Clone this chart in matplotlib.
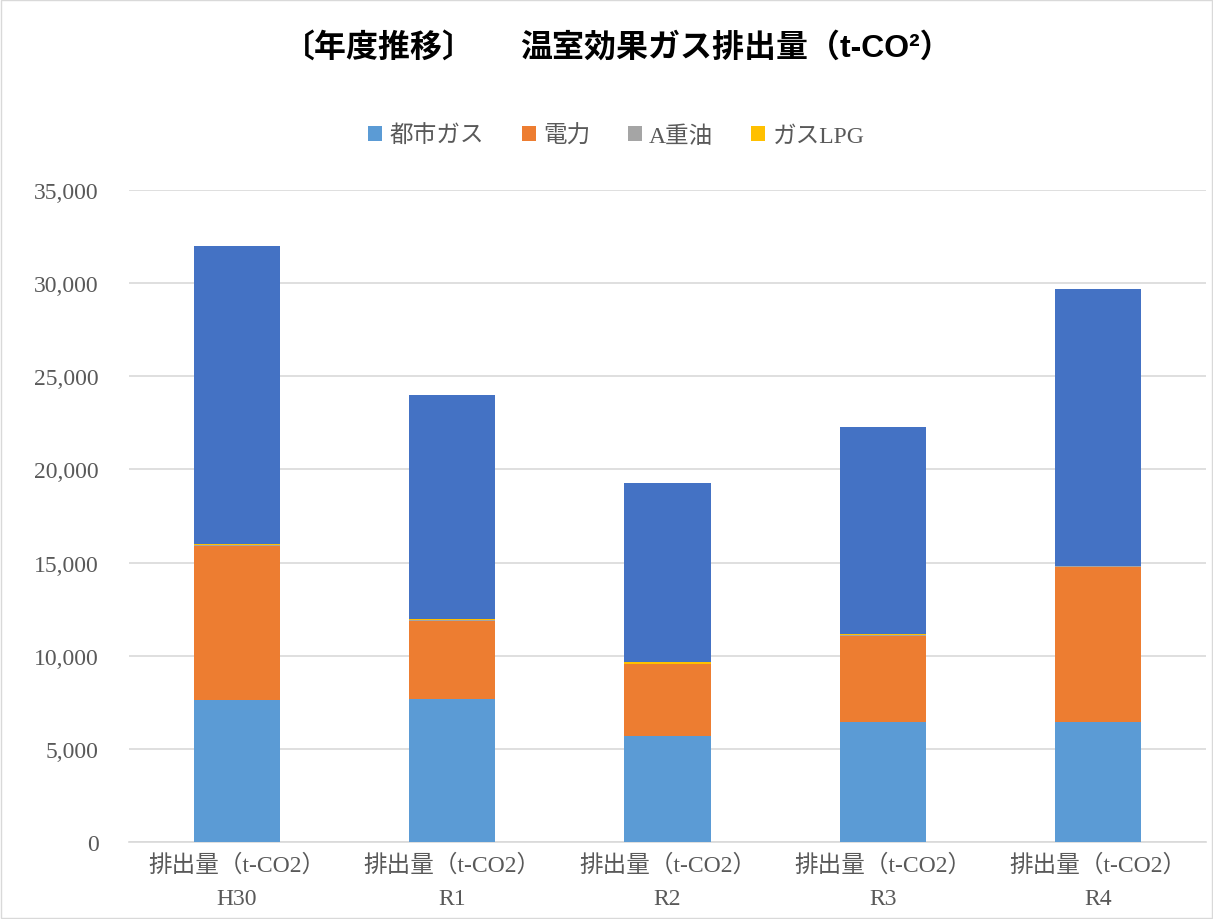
import matplotlib.pyplot as plt
import numpy as np
from matplotlib.patches import Rectangle

plt.rcParams['font.family'] = ['Liberation Serif', 'Noto Sans CJK JP']

# データ
years = ['H30', 'R1', 'R2', 'R3', 'R4']
city_gas = [7620, 7680, 5690, 6440, 6440]
electricity = [8250, 4200, 3850, 4620, 8300]
a_oil = [80, 40, 30, 60, 70]
lpg = [30, 60, 70, 20, 30]
total = [16000, 11990, 9620, 11140, 14820]

colors = ['#5B9BD5', '#ED7D31', '#A5A5A5', '#FFC000', '#4472C4']
names = ['都市ガス', '電力', 'A重油', 'ガスLPG']

fig = plt.figure(figsize=(12.13, 9.2), dpi=100)
ax = fig.add_axes([129 / 1213, 1 - 843 / 920, 1077 / 1213, 652 / 920])

x = np.arange(len(years))
w = 0.4
bottom = np.zeros(len(years))
series = [city_gas, electricity, a_oil, lpg, total]
for i, s in enumerate(series):
    ax.bar(x, s, w, bottom=bottom, color=colors[i], label=names[i] if i < 4 else None, zorder=3)
    bottom += np.array(s)

ax.set_xlim(-0.5, len(years) - 0.5)
ax.set_ylim(0, 35000)
ax.set_yticks(range(0, 35001, 5000))
ax.set_yticklabels([f'{v:,}' for v in range(0, 35001, 5000)], fontsize=17, color='#595959')
ax.set_xticks(x)
ax.set_xticklabels([f'排出量（t-CO2）\n{y}' for y in years], fontsize=17, color='#595959', linespacing=1.75)
ax.tick_params(axis='y', length=0, pad=22)
ax.tick_params(axis='x', length=0, pad=8)
ax.grid(axis='y', color='#D9D9D9', linewidth=1.2, zorder=0)
for sp in ['top', 'right', 'left']:
    ax.spines[sp].set_visible(False)
ax.spines['bottom'].set_color('#D9D9D9')
ax.spines['bottom'].set_linewidth(1.2)

ax.legend(loc='center', bbox_to_anchor=(0.508, 1 - 137 / 920), bbox_transform=fig.transFigure,
          ncol=4, frameon=False, fontsize=17, handlelength=0.6, handleheight=0.6,
          handletextpad=0.3, columnspacing=1.6, labelcolor='#595959')

title_font = ['Liberation Sans', 'Noto Sans CJK JP']
fig.text(283 / 1213, 1 - 48 / 920, '〔年度推移〕', ha='left', va='center',
         fontsize=23, fontweight='bold', family=title_font)
fig.text(520 / 1213, 1 - 48 / 920, '温室効果ガス排出量（t-CO²）', ha='left', va='center',
         fontsize=23, fontweight='bold', family=title_font)

fig.patches.append(Rectangle((0.001, 0.001), 0.998, 0.998, transform=fig.transFigure,
                             fill=False, edgecolor='#D9D9D9', linewidth=1))

fig.savefig('out.png', dpi=100)
